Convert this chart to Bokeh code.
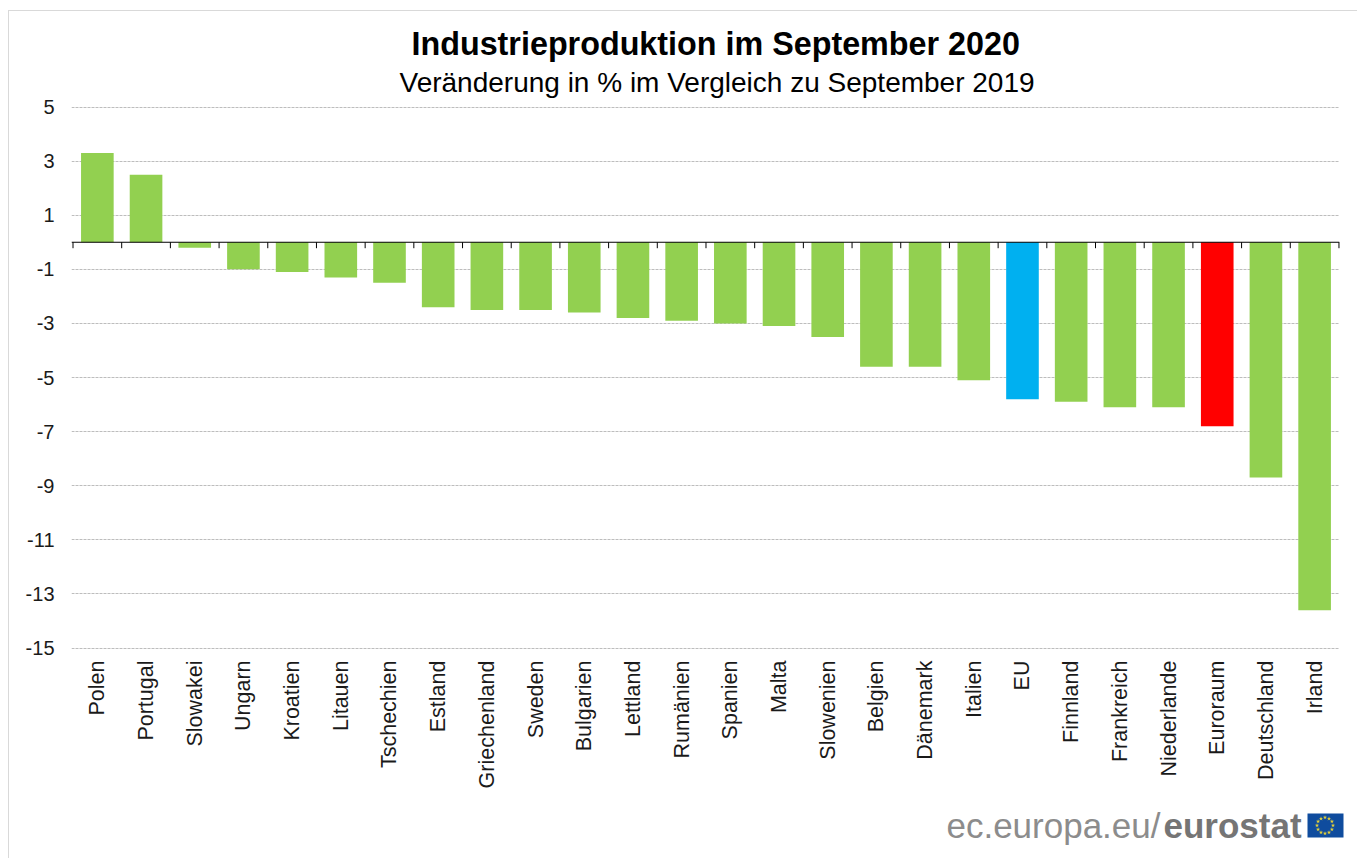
import math
from bokeh.plotting import figure
from bokeh.embed import file_html
from bokeh.resources import INLINE
from bokeh.layouts import column
from bokeh.core.properties import value
from bokeh.models import ColumnDataSource, Range1d, FixedTicker, Span, Title

countries = ["Polen", "Portugal", "Slowakei", "Ungarn", "Kroatien", "Litauen", "Tschechien", "Estland",
             "Griechenland", "Sweden", "Bulgarien", "Lettland", "Rumänien", "Spanien", "Malta", "Slowenien",
             "Belgien", "Dänemark", "Italien", "EU", "Finnland", "Frankreich", "Niederlande", "Euroraum",
             "Deutschland", "Irland"]
values = [3.3, 2.5, -0.2, -1.0, -1.1, -1.3, -1.5, -2.4, -2.5, -2.5, -2.6, -2.8, -2.9, -3.0, -3.1, -3.5,
          -4.6, -4.6, -5.1, -5.8, -5.9, -6.1, -6.1, -6.8, -8.7, -13.6]
bar_colors = {"EU": "#00B0F0", "Euroraum": "#FF0000"}
default_color = "#92D050"
y_ticks = [5, 3, 1, -1, -3, -5, -7, -9, -11, -13, -15]

FONT = "Liberation Sans"
TEXT = "#1a1a1a"
n = len(countries)
centers = [i + 0.5 for i in range(n)]
edges = list(range(n + 1))

# The small paddings keep the outermost grid lines and ticks from being clipped by the frame.
p = figure(x_range=Range1d(-0.031, n + 0.011), y_range=Range1d(-15.129, 5.093), width=1348, height=789,
           output_backend="svg", toolbar_location=None, tools="",
           min_border_left=62, min_border_right=18, min_border_top=93, min_border_bottom=149,
           background_fill_color="white", border_fill_color="white", outline_line_color=None)
p.frame_align = False

src = ColumnDataSource(dict(x=centers, top=values, name=countries,
                            color=[bar_colors.get(c, default_color) for c in countries]))
p.vbar(x="x", top="top", bottom=0, width=0.67, source=src, fill_color="color", line_color="color", line_width=0)

# Y axis
p.yaxis.ticker = FixedTicker(ticks=y_ticks)
p.yaxis.major_label_overrides = {t: str(t) for t in y_ticks}
p.yaxis.axis_line_color = None
p.yaxis.major_tick_line_color = None
p.yaxis.minor_tick_line_color = None
p.yaxis.major_tick_out = 0
p.yaxis.major_label_text_font = FONT
p.yaxis.major_label_text_font_size = "20px"
p.yaxis.major_label_text_color = TEXT
p.yaxis.major_label_standoff = 17

p.ygrid.ticker = FixedTicker(ticks=y_ticks)
p.ygrid.grid_line_color = "#bdbdbd"
p.ygrid.grid_line_dash = "3 1"
p.ygrid.grid_line_width = 1
p.xgrid.grid_line_color = None

# Category labels at the bottom
p.xaxis.ticker = FixedTicker(ticks=centers)
p.xaxis.major_label_overrides = {c: name for c, name in zip(centers, countries)}
p.xaxis.axis_line_color = None
p.xaxis.major_tick_line_color = None
p.xaxis.minor_tick_line_color = None
p.xaxis.major_tick_out = 0
p.xaxis.major_label_orientation = math.pi / 2
p.xaxis.major_label_text_font = FONT
p.xaxis.major_label_text_font_size = "21.5px"
p.xaxis.major_label_text_color = TEXT
p.xaxis.major_label_standoff = 9

# Zero line with ticks between the categories
p.add_layout(Span(location=0, dimension="width", line_color="#000000", line_width=1))
p.segment(x0=edges, y0=[0] * len(edges), x1=edges, y1=[-0.22] * len(edges),
          line_color="#000000", line_width=1, level="overlay")

# Titles
p.title = Title(text="Industrieproduktion im September 2020", align="left", offset=340,
                text_font=FONT, text_font_size="32.3px", text_font_style="bold", text_color="#000000",
                standoff=2)
p.add_layout(Title(text="Veränderung in % im Vergleich zu September 2019", align="left", offset=328,
                   vertical_align="top",
                   text_font=FONT, text_font_size="28px", text_font_style="normal", text_color="#000000",
                   standoff=9),
             "above")

# Source logo, drawn in its own strip in page pixels
logo = figure(x_range=Range1d(9, 1357), y_range=Range1d(858, 800), width=1348, height=58,
              output_backend="svg", toolbar_location=None, tools="",
              min_border=0, outline_line_color=None, border_fill_color="white", background_fill_color="white")
logo.frame_align = False
logo.axis.visible = False
logo.grid.visible = False
logo.text(x=[1160], y=[825], text=["ec.europa.eu/"], text_align="right", text_baseline="middle",
          text_font=value(FONT), text_font_size="35px", text_color="#8c8c8c")
logo.text(x=[1163], y=[825], text=["eurostat"], text_align="left", text_baseline="middle",
          text_font=value(FONT), text_font_size="35px", text_font_style="bold", text_color="#757575")
logo.quad(left=[1307], right=[1343], top=[813], bottom=[837], fill_color="#0F4C9E", line_color=None)
star_angles = [2 * math.pi * k / 12 for k in range(12)]
logo.scatter(x=[1324.5 + 8 * math.cos(a) for a in star_angles],
             y=[825 + 8 * math.sin(a) for a in star_angles],
             marker="star", size=4.5, fill_color="#E5D23A", line_color=None)

page = column(p, logo, spacing=0, margin=(10, 0, 0, 8),
              styles={"border-top": "1px solid #d9d9d9", "border-left": "1px solid #d9d9d9"})

open("out.html", "w").write(file_html(page, INLINE))
